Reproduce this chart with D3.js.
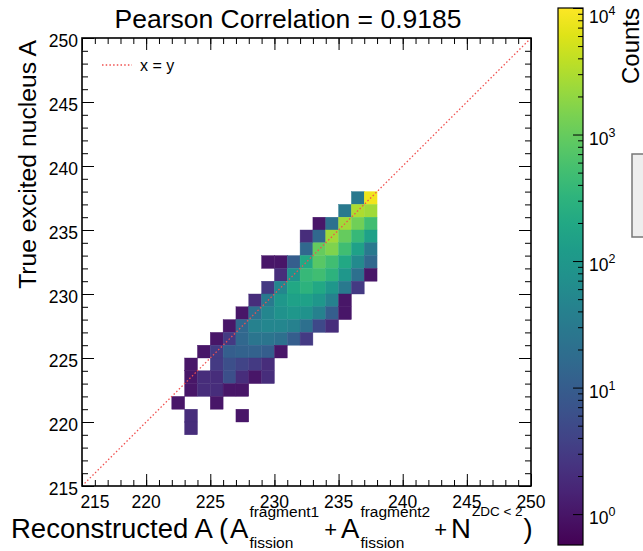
<!DOCTYPE html>
<html><head><meta charset="utf-8">
<script src="https://cdn.jsdelivr.net/npm/d3@7"></script>
<style>body{margin:0;background:#fff} text{font-family:"Liberation Sans",Arial,Helvetica,sans-serif;fill:#000}</style>
</head><body><svg id="c" width="643" height="551"></svg>
<script>
// ---- data ----
const axisRange = [215, 250];
const majorTicks = [215, 220, 225, 230, 235, 240, 245, 250];
const rowY = [237, 236, 235, 234, 233, 232, 231, 230, 229, 228, 227, 226, 225, 224, 223, 222, 221, 220, 219];
const rowXStart = [236, 235, 233, 232, 232, 229, 230, 229, 228, 227, 226, 225, 224, 223, 223, 223, 222, 223, 223];
const rowCounts = [
  [30, 8000],
  [30, 3000, 2500],
  [1, 20, 2500, 1200, 500],
  [2, 15, 2500, 1000, 400, 150],
  [15, 1000, 1500, 500, 150, 30],
  [1, 1, 10, 200, 800, 500, 200, 60, 15],
  [2, 80, 400, 500, 300, 100, 20, 1],
  [3, 50, 200, 300, 200, 100, 30, 3],
  [2, 30, 100, 150, 150, 100, 40, 1],
  [1, 20, 50, 80, 100, 80, 40, 10, 1],
  [1, 15, 40, 50, 50, 40, 20, 5, 2],
  [1, 3, 15, 25, 25, 20, 10, 3],
  [1, 3, 10, 12, 12, 10, 1],
  [1, 0, 3, 6, 4, 3, 2],
  [1, 2, 2, 6, 2, 1, 2],
  [1, 2, 2, 1, 1],
  [1, 0, 0, 1],
  [2, 0, 0, 0, 1],
  [2]
];
const colorDomain = [0.57, 10000];
const cbarTicks = [1, 10, 100, 1000, 10000];
const titleText = "Pearson Correlation = 0.9185";
const yTitle = "True excited nucleus A";
const legendLabel = "x = y";

// ---- layout ----
const svg = d3.select("#c");
const L = 82, R = 531, T = 38, B = 486;
const x = d3.scaleLinear().domain(axisRange).range([L, R]);
const y = d3.scaleLinear().domain(axisRange).range([B, T]);
const color = d3.scaleSequentialLog(d3.interpolateViridis).domain(colorDomain);

const cells = [];
rowY.forEach((yv, i) => rowCounts[i].forEach((c, j) => { if (c > 0) cells.push({x: rowXStart[i] + j, y: yv, c}); }));

svg.append("g").selectAll("rect").data(cells).join("rect")
  .attr("x", d => x(d.x)).attr("y", d => y(d.y + 1))
  .attr("width", d => x(d.x + 1) - x(d.x)).attr("height", d => y(d.y) - y(d.y + 1))
  .attr("fill", d => color(d.c)).attr("stroke", d => color(d.c)).attr("stroke-width", 0.4);

// diagonal
svg.append("line").attr("x1", x(215)).attr("y1", y(215)).attr("x2", x(250)).attr("y2", y(250))
  .attr("stroke", "#f0504f").attr("stroke-width", 1.3).attr("stroke-dasharray", "1.5,2.2");

// axes ticks
const minor = d3.range(215, 251, 1);
function tickAxis(gen, tr, vals, size) {
  svg.append("g").attr("transform", tr)
    .call(gen.tickValues(vals).tickSize(size).tickFormat(""))
    .call(g => { g.select(".domain").remove(); g.selectAll("line").attr("stroke", "#000").attr("stroke-width", 1); });
}
const sides = () => [[d3.axisBottom(x), `translate(0,${B})`], [d3.axisTop(x), `translate(0,${T})`],
 [d3.axisLeft(y), `translate(${L},0)`], [d3.axisRight(y), `translate(${R},0)`]];
sides().forEach(([gen, tr]) => tickAxis(gen, tr, minor, -6));
sides().forEach(([gen, tr]) => tickAxis(gen, tr, majorTicks, -12));

svg.append("rect").attr("x", L).attr("y", T).attr("width", R - L).attr("height", B - T)
  .attr("fill", "none").attr("stroke", "#000").attr("stroke-width", 1.6);

// tick labels
svg.append("g").selectAll("text").data(majorTicks).join("text")
  .attr("x", d => d === 215 ? x(d) + 13 : x(d)).attr("y", B + 22)
  .attr("text-anchor", "middle").attr("font-size", 17.5).text(d => d);
svg.append("g").selectAll("text").data(majorTicks).join("text")
  .attr("x", L - 4).attr("y", d => y(d) + 9)
  .attr("text-anchor", "end").attr("font-size", 17.5).text(d => d);

// title
svg.append("text").attr("x", 288).attr("y", 28).attr("text-anchor", "middle").attr("font-size", 26.5).text(titleText);

// y title
svg.append("text").attr("transform", `translate(36,${T + 2}) rotate(-90)`).attr("text-anchor", "end")
  .attr("font-size", 24.7).text(yTitle);

// x title (pieces chained by measured width)
const XB = 538;
function piece(str, px, py, fs) {
  const t = svg.append("text").attr("x", px).attr("y", py).attr("font-size", fs).text(str);
  return px + t.node().getComputedTextLength();
}
let cx = piece("Reconstructed A (", 11, XB, 27.5);
cx = piece("A", cx + 2, XB, 27.5);
let e1 = piece("fragment1", cx + 1, 517, 15.5);
let e2 = piece("fission", cx + 1, 548, 15.5);
cx = Math.max(e1, e2) + 5;
cx = piece("+", cx, XB - 1, 22);
cx = piece("A", cx + 4, XB, 27.5);
e1 = piece("fragment2", cx + 1, 517, 15.5);
e2 = piece("fission", cx + 1, 548, 15.5);
cx = Math.max(e1, e2) + 4;
cx = piece("+", cx, XB - 1, 22);
cx = piece("N", cx + 4, XB, 27.5);
cx = piece("ZDC < 2", cx + 1, 516, 13.5);
piece(")", cx + 1, XB, 27.5);

// legend
svg.append("line").attr("x1", 102).attr("x2", 132).attr("y1", 65).attr("y2", 65)
  .attr("stroke", "#f0504f").attr("stroke-width", 1.3).attr("stroke-dasharray", "1.5,2.2");
svg.append("text").attr("x", 140).attr("y", 71).attr("font-size", 16).text(legendLabel);

// colorbar
const cbL = 558, cbR = 583, cbT = 8, cbB = 545;
const cy = d3.scaleLog().domain(colorDomain).range([cbB, cbT]);
const grad = svg.append("defs").append("linearGradient").attr("id", "vg").attr("x1", 0).attr("y1", 1).attr("x2", 0).attr("y2", 0);
d3.range(0, 1.0001, 0.05).forEach(t => grad.append("stop").attr("offset", t).attr("stop-color", d3.interpolateViridis(t)));
svg.append("rect").attr("x", cbL).attr("y", cbT).attr("width", cbR - cbL).attr("height", cbB - cbT)
  .attr("fill", "url(#vg)").attr("stroke", "#000").attr("stroke-width", 1.2);
const cbMinor = [];
for (let e = 0; e < 4; e++) for (let m = 2; m <= 9; m++) cbMinor.push(m * Math.pow(10, e));
svg.append("g").attr("transform", `translate(${cbR},0)`).call(d3.axisRight(cy).tickValues(cbMinor).tickSize(-5).tickFormat(""))
  .call(g => { g.select(".domain").remove(); g.selectAll("line").attr("stroke", "#000"); });
svg.append("g").attr("transform", `translate(${cbR},0)`).call(d3.axisRight(cy).tickValues(cbarTicks).tickSize(-10).tickFormat(""))
  .call(g => { g.select(".domain").remove(); g.selectAll("line").attr("stroke", "#000"); });
const cbl = svg.append("g").selectAll("text").data(cbarTicks).join("text")
  .attr("x", cbR + 6).attr("y", d => Math.max(cy(d) + 10, cbT + 15)).attr("font-size", 17.5);
cbl.append("tspan").text("10");
cbl.append("tspan").attr("font-size", 12.5).attr("dy", -8).text(d => Math.round(Math.log10(d)));

svg.append("text").attr("transform", `translate(639,${cbT}) rotate(-90)`).attr("text-anchor", "end")
  .attr("font-size", 24).text("Counts");

// partial box at right
svg.append("rect").attr("x", 632).attr("y", 154).attr("width", 20).attr("height", 83)
  .attr("fill", "#eeeeee").attr("stroke", "#777").attr("stroke-width", 1.5);
</script></body></html>
